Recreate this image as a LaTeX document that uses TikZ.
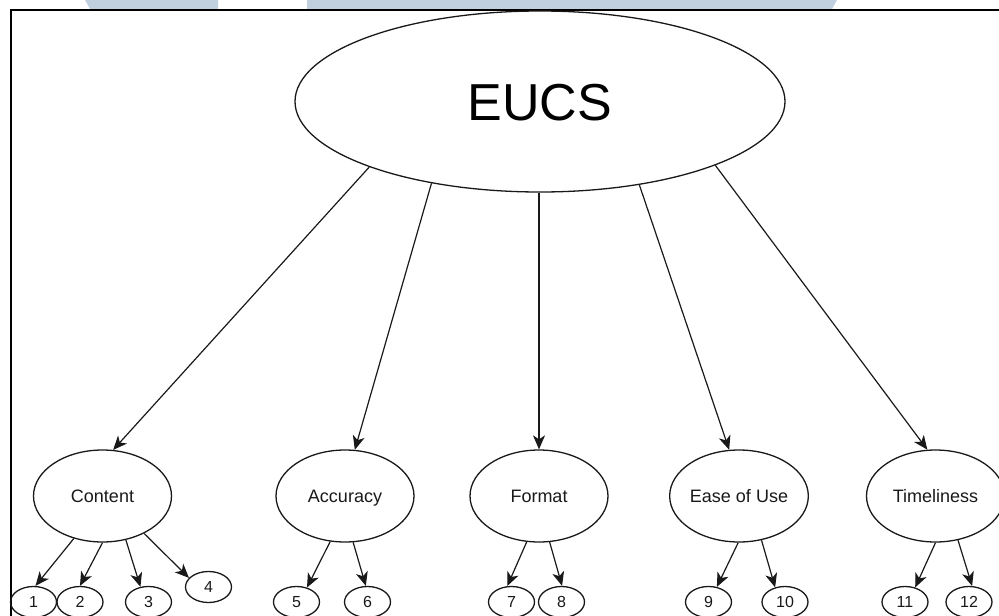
\documentclass[tikz,border=0pt]{standalone}
\usepackage{fontspec}
\setmainfont{Liberation Sans}
\usetikzlibrary{shapes.geometric,arrows.meta}
\definecolor{wm}{RGB}{192,208,222}
\definecolor{ink}{RGB}{25,25,25}
\begin{document}
\begin{tikzpicture}[x=1pt,y=-1pt,
  oval/.style={ellipse,draw=ink,line width=1.3pt,inner sep=0pt,text depth=0pt,text=ink},
  big/.style={oval,minimum width=490pt,minimum height=181pt,text height=37pt,font=\fontsize{52}{60}\selectfont,text=black},
  factor/.style={oval,minimum width=138pt,minimum height=92pt,text height=13pt,font=\fontsize{18}{20}\selectfont},
  item/.style={oval,minimum width=46pt,minimum height=31pt,text height=11.5pt,font=\fontsize{16}{18}\selectfont},
  arr/.style={draw=ink,line width=1.2pt,-{Stealth[length=14pt,width=12pt,inset=4pt]}}]
\useasboundingbox (0,0) rectangle (999,616);
% faint banner at top
\fill[wm] (85,0) -- (218,0) -- (218,9) -- (90,9) -- cycle;
\fill[wm] (307,0) -- (837,0) -- (832,9) -- (307,9) -- cycle;
% frame
\draw[line width=2pt] (999,10) -- (10.5,10) -- (10.5,616);
% nodes
\node[big] (eucs) at (540,101.5) {EUCS};
\node[factor] (content) at (102.5,496) {Content};
\node[factor] (accuracy) at (345,496) {Accuracy};
\node[factor] (format) at (539,496) {Format};
\node[factor] (ease) at (739,496) {Ease of Use};
\node[factor] (time) at (935.5,496) {Timeliness};
\node[item] (i1) at (33.5,602) {1};
\node[item] (i2) at (80,602) {2};
\node[item] (i3) at (148.5,602) {3};
\node[item] (i4) at (208.5,587) {4};
\node[item] (i5) at (296.5,602) {5};
\node[item] (i6) at (367.5,602) {6};
\node[item] (i7) at (511.5,602) {7};
\node[item] (i8) at (561.5,602) {8};
\node[item] (i9) at (708.5,602) {9};
\node[item] (i10) at (785,602) {10};
\node[item] (i11) at (905,602) {11};
\node[item] (i12) at (969,602) {12};
% connectors
\draw[arr] (eucs.201) -- (content.77);
\draw[arr] (eucs.217) -- (accuracy.78);
\draw[arr] (eucs.south -| format.north) -- (format.north);
\draw[arr] (eucs.320) -- (ease.102);
\draw[arr] (eucs.340) -- (time.100);
\draw[arr] (content.236) -- (i1.83);
\draw[arr] (content.270) -- (i2.90);
\draw[arr] (content.298) -- (i3.118);
\draw[arr] (content.318) -- (i4.155);
\draw[arr] (accuracy.252) -- (i5.54);
\draw[arr] (accuracy.280) -- (i6.96);
\draw[arr] (format.255) -- (i7.105);
\draw[arr] (format.283) -- (i8.88);
\draw[arr] (ease.269) -- (i9.61);
\draw[arr] (ease.297) -- (i10.124);
\draw[arr] (time.270) -- (i11.55);
\draw[arr] (time.297) -- (i12.79);
\end{tikzpicture}
\end{document}
